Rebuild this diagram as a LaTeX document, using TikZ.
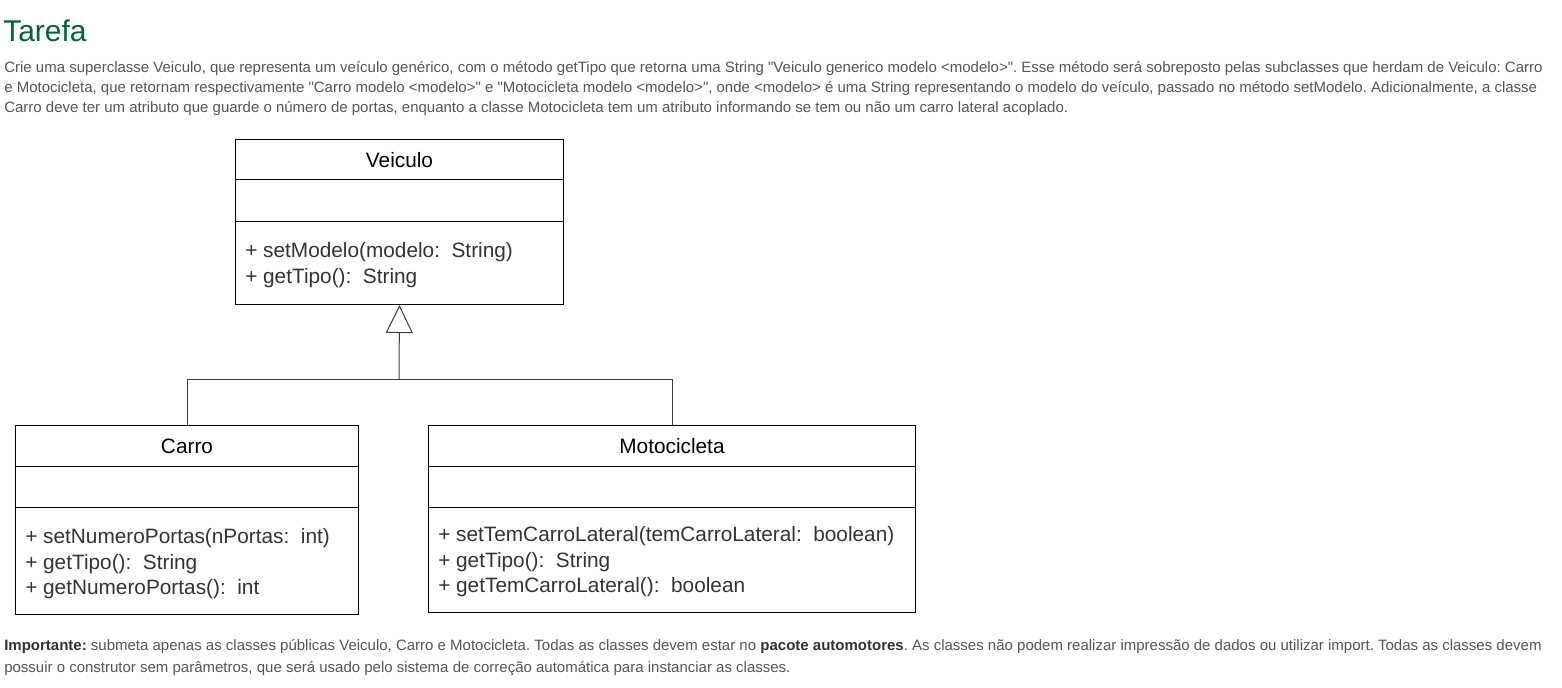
\documentclass[tikz,border=0pt]{standalone}
\usepackage{fontspec}
\setmainfont{Liberation Sans}
\usetikzlibrary{arrows.meta}
\definecolor{tarefagreen}{RGB}{0,102,51}
\definecolor{bodygray}{RGB}{85,85,85}
\definecolor{methodgray}{RGB}{51,51,51}
\definecolor{linkgray}{RGB}{60,60,60}
\frenchspacing
\begin{document}
\begin{tikzpicture}[x=0.75pt, y=-0.75pt,
	classbox/.style={draw=black, line width=0.75pt, inner sep=0pt, anchor=north west},
	classname/.style={font=\fontsize{15.6pt}{18pt}\selectfont, text=black, inner sep=0pt},
	methods/.style={font=\fontsize{15.6pt}{19.1pt}\selectfont, text=methodgray, align=left, inner sep=0pt, anchor=north west},
	bodytext/.style={font=\fontsize{11.25pt}{15pt}\selectfont, text=bodygray, anchor=base west, inner sep=0pt},
	inherit/.style={draw=linkgray, line width=0.75pt}]
	\useasboundingbox (0,0) rectangle (1562,687);
	
	\node[font=\fontsize{22.5pt}{27pt}\selectfont, text=tarefagreen, anchor=base west, inner sep=0pt] (title) at (3,41) {Tarefa};
	\node[bodytext] (intro1) at (4,72) {Crie uma superclasse Veiculo, que representa um veículo genérico, com o método getTipo que retorna uma String \textquotedbl Veiculo generico modelo <modelo>\textquotedbl. Esse método será sobreposto pelas subclasses que herdam de Veiculo: Carro};
	\node[bodytext] (intro2) at (4,92) {e Motocicleta, que retornam respectivamente \textquotedbl Carro modelo <modelo>\textquotedbl\ e \textquotedbl Motocicleta modelo <modelo>\textquotedbl, onde <modelo> é uma String representando o modelo do veículo, passado no método setModelo. Adicionalmente, a classe};
	\node[bodytext] (intro3) at (4,112) {Carro deve ter um atributo que guarde o número de portas, enquanto a classe Motocicleta tem um atributo informando se tem ou não um carro lateral acoplado.};
	
	\node[classbox, minimum width=246pt, minimum height=123.75pt] (veiculo) at (235,139) {};
	\draw ([yshift=-30pt]veiculo.north west) -- ([yshift=-30pt]veiculo.north east);
	\draw ([yshift=-61.5pt]veiculo.north west) -- ([yshift=-61.5pt]veiculo.north east);
	\node[classname] (veiculoname) at ([yshift=-16.1pt]veiculo.north) {Veiculo};
	\node[methods] (veiculometh) at ([xshift=7.5pt, yshift=-77.5pt]veiculo.north west) {+ setModelo(modelo:\ \ String)\\+ getTipo():\ \ String};
	
	\node[classbox, minimum width=257.25pt, minimum height=141.75pt] (carro) at (15,425) {};
	\draw ([yshift=-30.75pt]carro.north west) -- ([yshift=-30.75pt]carro.north east);
	\draw ([yshift=-61.5pt]carro.north west) -- ([yshift=-61.5pt]carro.north east);
	\node[classname] (carroname) at ([yshift=-16.1pt]carro.north) {Carro};
	\node[methods] (carrometh) at ([xshift=7.5pt, yshift=-77.5pt]carro.north west) {+ setNumeroPortas(nPortas:\ \ int)\\+ getTipo():\ \ String\\+ getNumeroPortas():\ \ int};
	
	\node[classbox, minimum width=365.25pt, minimum height=140.25pt] (moto) at (428,425) {};
	\draw ([yshift=-30.75pt]moto.north west) -- ([yshift=-30.75pt]moto.north east);
	\draw ([yshift=-61.5pt]moto.north west) -- ([yshift=-61.5pt]moto.north east);
	\node[classname] (motoname) at ([yshift=-16.1pt]moto.north) {Motocicleta};
	\node[methods] (motometh) at ([xshift=7.5pt, yshift=-76pt]moto.north west) {+ setTemCarroLateral(temCarroLateral:\ \ boolean)\\+ getTipo():\ \ String\\+ getTemCarroLateral():\ \ boolean};
	
	% generalization
	\coordinate (joint) at (399,379);
	\draw[inherit] (carro.north) |- (joint) -| (moto.north);
	\draw[inherit, -{Triangle[open, width=20.25pt, length=21pt]}] (joint) -- (veiculo.south);
	
	\node[bodytext] (note1) at (4,650) {\textbf{\color{methodgray}Importante:} submeta apenas as classes públicas Veiculo, Carro e Motocicleta. Todas as classes devem estar no \textbf{\color{methodgray}pacote automotores}. As classes não podem realizar impressão de dados ou utilizar import. Todas as classes devem};
	\node[bodytext] (note2) at (4,672) {possuir o construtor sem parâmetros, que será usado pelo sistema de correção automática para instanciar as classes.};
\end{tikzpicture}
\end{document}
